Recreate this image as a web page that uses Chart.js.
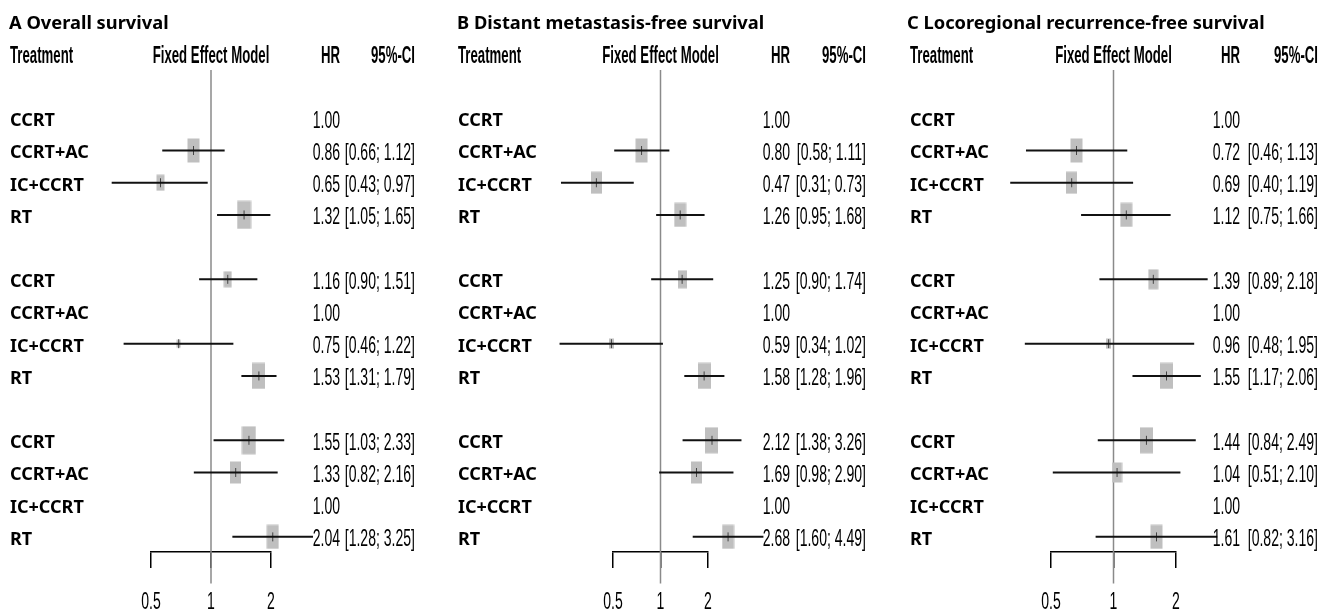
<!DOCTYPE html>
<html lang="en">
<head>
<meta charset="UTF-8">
<title>Network meta-analysis forest plots</title>
<script src="https://cdn.jsdelivr.net/npm/chart.js"></script>
<style>
  body { margin: 0; background: #fff; }
  #wrap { position: relative; width: 1329px; height: 614px; overflow: hidden; }
  canvas { position: absolute; top: 0; }
</style>
</head>
<body>
<div id="wrap">
  <canvas id="panelA" width="450" height="614" style="left:0"></canvas>
  <canvas id="panelB" width="450" height="614" style="left:450px"></canvas>
  <canvas id="panelC" width="429" height="614" style="left:900px"></canvas>
</div>
<script>
// three blocks of four rows each; the reference treatment of a block has HR 1.00 and no CI
const treatments = ['CCRT', 'CCRT+AC', 'IC+CCRT', 'RT'];
const xTicks = [0.5, 1, 2];

// A Overall survival
const osHR     = [1.00, 0.86, 0.65, 1.32,  1.16, 1.00, 0.75, 1.53,  1.55, 1.33, 1.00, 2.04];
const osLower  = [null, 0.66, 0.43, 1.05,  0.90, null, 0.46, 1.31,  1.03, 0.82, null, 1.28];
const osUpper  = [null, 1.12, 0.97, 1.65,  1.51, null, 1.22, 1.79,  2.33, 2.16, null, 3.25];
const osWeight = [0, 0.86, 0.57, 1.00,  0.57, 0, 0.29, 0.93,  1.00, 0.79, 0, 0.86];

// B Distant metastasis-free survival
const dmfsHR     = [1.00, 0.80, 0.47, 1.26,  1.25, 1.00, 0.59, 1.58,  2.12, 1.69, 1.00, 2.68];
const dmfsLower  = [null, 0.58, 0.31, 0.95,  0.90, null, 0.34, 1.28,  1.38, 0.98, null, 1.60];
const dmfsUpper  = [null, 1.11, 0.73, 1.68,  1.74, null, 1.02, 1.96,  3.26, 2.90, null, 4.49];
const dmfsWeight = [0, 0.86, 0.79, 0.86,  0.64, 0, 0.36, 0.93,  0.93, 0.79, 0, 0.86];

// C Locoregional recurrence-free survival
const lrfsHR     = [1.00, 0.72, 0.69, 1.12,  1.39, 1.00, 0.96, 1.55,  1.44, 1.04, 1.00, 1.61];
const lrfsLower  = [null, 0.46, 0.40, 0.75,  0.89, null, 0.48, 1.17,  0.84, 0.51, null, 0.82];
const lrfsUpper  = [null, 1.13, 1.19, 1.66,  2.18, null, 1.95, 2.06,  2.49, 2.10, null, 3.16];
const lrfsWeight = [0, 0.86, 0.79, 0.86,  0.71, 0, 0.36, 0.93,  0.93, 0.71, 0, 0.86];

const panels = [
  { id: 'panelA', title: 'A Overall survival', hr: osHR, lo: osLower, hi: osUpper, wt: osWeight,
    left: 151, right: 271, titleX: 9, labelX: 10, hrRight: 340, ciRight: 415, stretch: [1.37, 1.3] },
  { id: 'panelB', title: 'B Distant metastasis-free survival', hr: dmfsHR, lo: dmfsLower, hi: dmfsUpper, wt: dmfsWeight,
    left: 163, right: 258, titleX: 7, labelX: 8, hrRight: 340, ciRight: 416, stretch: [1.24, 1.39] },
  { id: 'panelC', title: 'C Locoregional recurrence-free survival', hr: lrfsHR, lo: lrfsLower, hi: lrfsUpper, wt: lrfsWeight,
    left: 151, right: 276, titleX: 7, labelX: 10, hrRight: 340, ciRight: 418, stretch: [1.25, 1.34] }
];

const NARROW = '"Liberation Sans", Arial, sans-serif';
const BOLD = '"Noto Sans", "Open Sans", sans-serif';

// grey box with a small tick at the estimate
const boxCache = {};
function boxImage(weight) {
  const key = weight.toFixed(2);
  if (boxCache[key]) return boxCache[key];
  const w = Math.max(2, Math.round(weight * 14));
  const h = Math.round(w * 2);
  const c = document.createElement('canvas');
  c.width = w + (w % 2 ? 0 : 1);
  c.height = Math.max(h, 10) + 1;
  const g = c.getContext('2d');
  g.fillStyle = '#bfbfbf';
  g.fillRect((c.width - w) / 2, (c.height - h) / 2, w, h);
  g.fillStyle = '#444';
  g.fillRect(Math.floor(c.width / 2), c.height / 2 - 4.5, 1, 9);
  boxCache[key] = c;
  return c;
}

function squeezed(ctx, text, x, y, align, font, sx) {
  ctx.save();
  ctx.font = font;
  const w = ctx.measureText(text).width * sx;
  const left = align === 'right' ? x - w : align === 'center' ? x - w / 2 : x;
  ctx.translate(left, y);
  ctx.scale(sx, 1);
  ctx.textAlign = 'left';
  ctx.textBaseline = 'alphabetic';
  ctx.fillStyle = '#000';
  ctx.fillText(text, 0, 0);
  ctx.restore();
}

function textPlugin(p) {
  return {
    id: 'forestText',
    afterDraw(chart) {
      const ctx = chart.ctx;
      const xs = chart.scales.x, ys = chart.scales.y;
      ctx.save();
      ctx.fillStyle = '#000';
      ctx.textBaseline = 'alphabetic';
      ctx.textAlign = 'left';
      ctx.font = 'bold 18.3px ' + BOLD;
      ctx.fillText(p.title, p.titleX, 29);

      const head = 'bold 24px ' + NARROW;
      squeezed(ctx, 'Treatment', p.labelX, 63, 'left', head, 0.55);
      squeezed(ctx, 'Fixed Effect Model', xs.getPixelForValue(1), 63, 'center', head, 0.55);
      squeezed(ctx, 'HR', p.hrRight, 63, 'right', head, 0.55);
      squeezed(ctx, '95%-CI', p.ciRight, 63, 'right', head, 0.55);

      const num = '24px ' + NARROW;
      for (let b = 0; b < 3; b++) {
        for (let j = 0; j < 4; j++) {
          const k = b * 4 + j;
          const yp = ys.getPixelForValue(b * 5 + j);
          ctx.font = 'bold 18px ' + BOLD;
          ctx.textAlign = 'left';
          ctx.fillText(treatments[j], p.labelX, yp + 8);
          squeezed(ctx, p.hr[k].toFixed(2), p.hrRight, yp + 9.5, 'right', num, 0.585);
          if (p.lo[k] != null) {
            squeezed(ctx, '[' + p.lo[k].toFixed(2) + '; ' + p.hi[k].toFixed(2) + ']', p.ciRight, yp + 9.5, 'right', num, 0.585);
          }
        }
      }
      xs.ticks.forEach(t => {
        squeezed(ctx, String(t.value), xs.getPixelForValue(t.value), 609, 'center', num, 0.585);
      });
      ctx.restore();
    }
  };
}

function buildChart(p) {
  const canvas = document.getElementById(p.id);
  const datasets = [{
    type: 'line', data: [{ x: 1, y: -1.5 }, { x: 1, y: 14.45 }], xAxisID: 'x',
    borderColor: '#8a8a8a', borderWidth: 1.5, pointRadius: 0, clip: false, order: 3
  }];
  for (let b = 0; b < 3; b++) {
    const axisId = b === 2 ? 'x' : 'x' + (b + 1);
    const boxes = [];
    for (let j = 0; j < 4; j++) {
      const k = b * 4 + j;
      if (p.lo[k] == null) continue;
      const row = b * 5 + j;
      datasets.push({
        type: 'line', data: [{ x: p.lo[k], y: row }, { x: p.hi[k], y: row }], xAxisID: axisId,
        borderColor: '#111', borderWidth: 2, pointRadius: 0, clip: false, order: 1
      });
      boxes.push({ x: p.hr[k], y: row, w: p.wt[k] });
    }
    datasets.push({
      type: 'scatter', data: boxes, xAxisID: axisId,
      pointStyle: ctx => boxImage(ctx.raw.w), pointRadius: 60, clip: false, order: 2
    });
  }
  const hidden = s => ({ type: 'logarithmic', display: false, min: Math.pow(0.5, 1 / s), max: Math.pow(2, 1 / s) });
  new Chart(canvas, {
    type: 'scatter',
    data: { datasets },
    options: {
      responsive: false,
      animation: false,
      events: [],
      layout: { padding: { left: p.left, right: canvas.width - p.right, top: 70, bottom: 46 } },
      plugins: { legend: { display: false }, tooltip: { enabled: false } },
      scales: {
        x: {
          type: 'logarithmic', min: 0.5, max: 2,
          afterBuildTicks: s => { s.ticks = xTicks.map(v => ({ value: v })); },
          grid: { drawOnChartArea: false, color: '#000', lineWidth: 1.5, tickLength: 16 },
          border: { color: '#000', width: 1.5 },
          ticks: { display: false }
        },
        x1: hidden(p.stretch[0]),
        x2: hidden(p.stretch[1]),
        y: { type: 'linear', display: false, reverse: true, min: -1.5, max: 13.47 }
      }
    },
    plugins: [textPlugin(p)]
  });
}

panels.forEach(buildChart);
</script>
</body>
</html>
